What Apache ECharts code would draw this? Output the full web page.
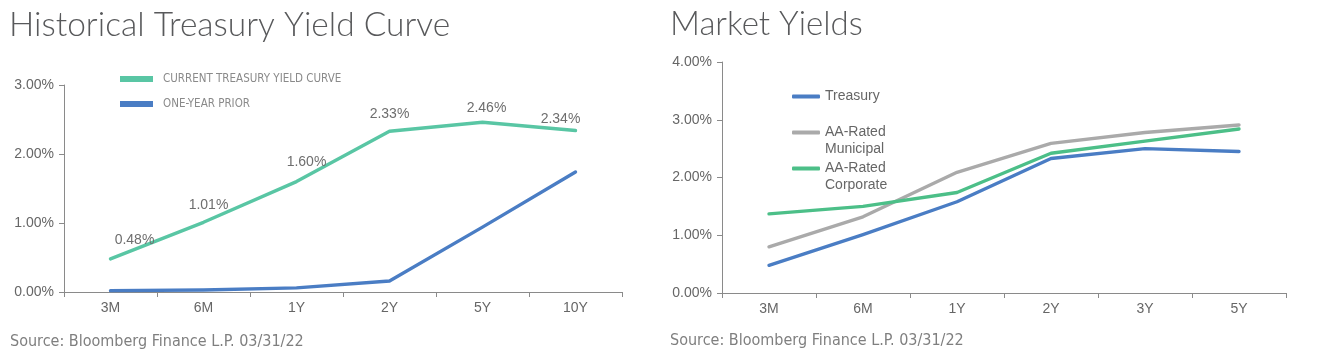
<!DOCTYPE html>
<html>
<head>
<meta charset="utf-8">
<script src="https://cdn.jsdelivr.net/npm/echarts@6/dist/echarts.min.js"></script>
<style>
html,body{margin:0;padding:0;background:#fff;}
#c{width:1321px;height:359px;}
</style>
</head>
<body>
<div id="c"></div>
<script>
// Left chart: Historical Treasury Yield Curve
const histCategories = ['3M', '6M', '1Y', '2Y', '5Y', '10Y'];
const currentCurve = [0.48, 1.01, 1.60, 2.33, 2.46, 2.34];
const priorCurve = [0.02, 0.03, 0.06, 0.16, 0.94, 1.74];
const histTicks = [0, 1, 2, 3];

// Right chart: Market Yields
const mktCategories = ['3M', '6M', '1Y', '2Y', '3Y', '5Y'];
const treasury = [0.48, 1.01, 1.58, 2.33, 2.50, 2.45];
const municipal = [0.80, 1.32, 2.09, 2.59, 2.78, 2.91];
const corporate = [1.37, 1.50, 1.74, 2.42, 2.63, 2.84];
const mktTicks = [0, 1, 2, 3, 4];

const C_CUR = '#59C6A4', C_PRI = '#4A7DC4', C_MUNI = '#AAAAAA', C_CORP = '#4CBF88';
const AX = '#8a8a8a', LBL = '#666666';
const chart = echarts.init(document.getElementById('c'));

// label placement nudges (style, not data)
const labelNudge = [[24, -1], [5, 0], [10, -2], [0, 0], [4, 3], [-15, 6]];

function yAxis(grid, ticks) {
  return {
    type: 'value', gridIndex: grid, min: ticks[0], max: ticks[ticks.length - 1], interval: 1,
    axisLine: {show: true, lineStyle: {color: AX, width: 1}},
    axisTick: {show: true, length: 5, lineStyle: {color: AX}},
    splitLine: {show: false},
    axisLabel: {color: LBL, fontFamily: 'Liberation Sans, Arial', fontSize: 14, margin: 10,
      formatter: v => v.toFixed(2) + '%'}
  };
}
function xAxis(grid, cats) {
  return {
    type: 'category', gridIndex: grid, data: cats, boundaryGap: true,
    axisLine: {show: true, lineStyle: {color: AX, width: 1}},
    axisTick: {show: true, length: 5, lineStyle: {color: AX}},
    axisLabel: {color: LBL, fontFamily: 'Liberation Sans, Arial', fontSize: 14, margin: 9}
  };
}
const lineStyleS = (c) => ({color: c, width: 3.4, cap: 'round', join: 'round'});
const legendText = {color: '#8a8a8a', fontFamily: 'Liberation Sans Narrow, DejaVu Sans Condensed, Arial', fontSize: 11.5,
  rich: {a: {color: '#8a8a8a', fontFamily: 'Liberation Sans Narrow, DejaVu Sans Condensed, Arial', fontSize: 11.5, padding: [0, 0, 0, 5]}}};
const rightLegendText = {color: '#666', fontFamily: 'Liberation Sans, Arial', fontSize: 14, lineHeight: 17};
const legendFmt = name => name.indexOf('\n') >= 0 ? ' \n' + name : name;
const srcStyle = {fontFamily: 'Liberation Sans Narrow, DejaVu Sans Condensed, Arial', fontWeight: 'normal', fontSize: 16, color: '#7f7f7f'};
const titleStyle = {fontFamily: 'Lato, Open Sans', fontWeight: 300, fontSize: 33, color: '#58595B'};

chart.setOption({
  animation: false,
  title: [
    {text: 'Historical Treasury Yield Curve', left: 9, top: 8, padding: 0, textStyle: Object.assign({}, titleStyle, {fontSize: 33.5})},
    {text: 'Market Yields', left: 670, top: 8, padding: 0, textStyle: titleStyle},
    {text: 'Source: Bloomberg Finance L.P. 03/31/22', left: 10, top: 334, padding: 0, textStyle: srcStyle},
    {text: 'Source: Bloomberg Finance L.P. 03/31/22', left: 670, top: 333, padding: 0, textStyle: srcStyle}
  ],
  legend: [
    {left: 115, top: 68, orient: 'vertical', itemWidth: 33, itemHeight: 6, itemGap: 13,
     icon: 'rect', textStyle: legendText, formatter: name => '{a|' + name + '}',
     data: [{name: 'CURRENT TREASURY YIELD CURVE'}, {name: 'ONE-YEAR PRIOR'}]},
    {left: 787, top: 83, itemWidth: 28, itemHeight: 4, icon: 'roundRect',
     textStyle: rightLegendText, data: ['Treasury']},
    {left: 787, top: 102, itemWidth: 28, itemHeight: 4, icon: 'roundRect',
     textStyle: rightLegendText, formatter: legendFmt, data: ['AA-Rated\nMunicipal']},
    {left: 787, top: 138, itemWidth: 28, itemHeight: 4, icon: 'roundRect',
     textStyle: rightLegendText, formatter: legendFmt, data: ['AA-Rated\nCorporate']}
  ],
  grid: [
    {left: 64, top: 85, width: 558, height: 207},
    {left: 722, top: 62, width: 564, height: 231}
  ],
  xAxis: [xAxis(0, histCategories), xAxis(1, mktCategories)],
  yAxis: [yAxis(0, histTicks), yAxis(1, mktTicks)],
  series: [
    {name: 'CURRENT TREASURY YIELD CURVE', type: 'line', xAxisIndex: 0, yAxisIndex: 0,
     data: currentCurve.map((v, i) => ({value: v, label: {offset: labelNudge[i]}})),
     symbol: 'circle', symbolSize: 1, showSymbol: true,
     lineStyle: lineStyleS(C_CUR), itemStyle: {color: C_CUR},
     label: {show: true, position: 'top', distance: 10, color: '#6e6e6e', fontFamily: 'Liberation Sans, Arial', fontSize: 14,
       formatter: p => Number(p.value).toFixed(2) + '%'}},
    {name: 'ONE-YEAR PRIOR', type: 'line', xAxisIndex: 0, yAxisIndex: 0, data: priorCurve,
     symbol: 'none', lineStyle: lineStyleS(C_PRI), itemStyle: {color: C_PRI}},
    {name: 'AA-Rated\nMunicipal', type: 'line', xAxisIndex: 1, yAxisIndex: 1, data: municipal,
     symbol: 'none', lineStyle: lineStyleS(C_MUNI), itemStyle: {color: C_MUNI}},
    {name: 'AA-Rated\nCorporate', type: 'line', xAxisIndex: 1, yAxisIndex: 1, data: corporate,
     symbol: 'none', lineStyle: lineStyleS(C_CORP), itemStyle: {color: C_CORP}},
    {name: 'Treasury', type: 'line', xAxisIndex: 1, yAxisIndex: 1, data: treasury,
     symbol: 'none', lineStyle: lineStyleS(C_PRI), itemStyle: {color: C_PRI}}
  ]
});
</script>
</body>
</html>
